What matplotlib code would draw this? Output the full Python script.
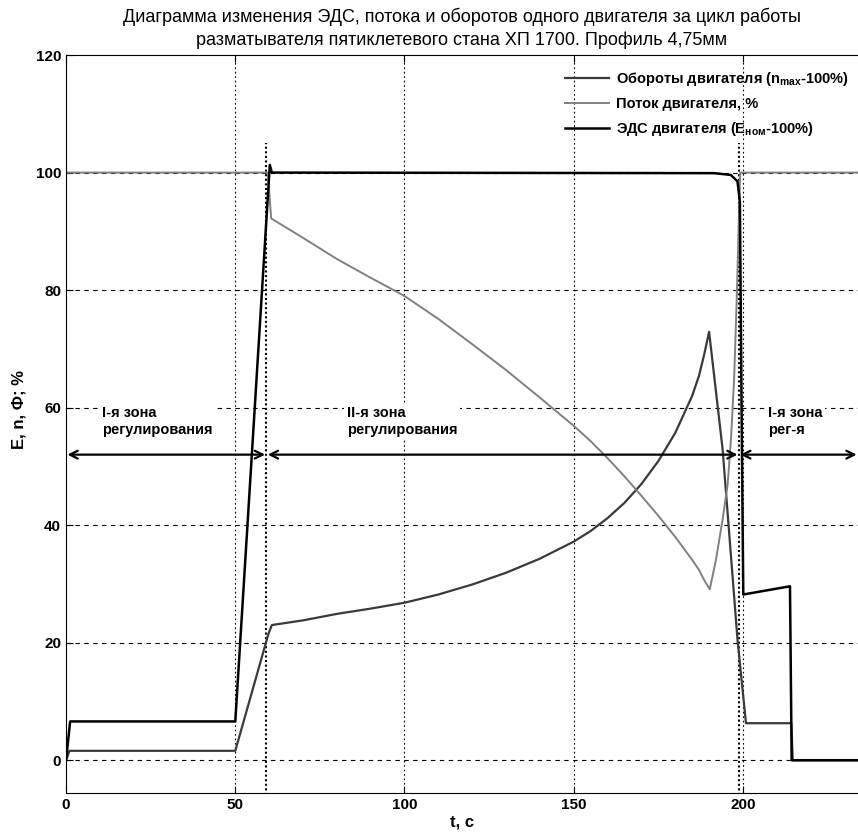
import matplotlib
matplotlib.use("Agg")
import matplotlib.pyplot as plt

plt.rcParams['font.family'] = ['Liberation Sans', 'DejaVu Sans']

# ЭДС двигателя
t_emf = [0, 1.2, 50, 60.2, 60.8, 191.5, 196.4, 198.4, 199.1, 199.6, 200.1, 213.9, 214.4, 234]
emf = [0, 6.6, 6.6, 101.3, 100, 99.9, 99.6, 98.5, 95, 60, 28.2, 29.6, 0, 0]

# Обороты двигателя
t_speed = [0, 1.0, 50, 59.8, 60.8, 70, 80, 90, 100, 110, 120, 130, 140, 150, 155, 160,
           165, 170, 175, 180, 185, 187, 188.5, 190.0, 194.0, 198.4, 200.9, 214.3, 214.7, 234]
speed = [0, 1.6, 1.6, 21.5, 23.0, 23.8, 24.9, 25.8, 26.8, 28.2, 29.9, 31.9, 34.3, 37.2, 39.0, 41.2,
         43.8, 47.0, 50.9, 55.7, 62.0, 65.4, 68.9, 72.9, 52.9, 20.5, 6.3, 6.3, 0, 0]

# Поток двигателя
t_flux = [0, 59.6, 60.6, 70, 80, 90, 100, 110, 120, 130, 140, 150, 155, 160, 165, 170, 175,
          180, 185, 187, 188.5, 190.2, 192, 194, 195.5, 196.5, 197.4, 198.2, 198.8, 199.2, 234]
flux = [100, 100, 92.2, 88.9, 85.3, 82.1, 79.0, 75.1, 70.8, 66.4, 61.7, 56.9, 54.3, 51.4, 48.3, 45.0, 41.6,
        38.0, 34.1, 32.4, 30.7, 29.1, 34, 41, 47, 55, 65, 79, 92, 100, 100]

zone_bounds = [0, 59.2, 198.8, 234]
zone_labels = ['I-я зона\nрегулирования', 'II-я зона\nрегулирования', 'I-я зона\nрег-я']
zone_text_x = [10.6, 83, 207.3]

fig = plt.figure(figsize=(8.58, 8.34), dpi=100)
ax = fig.add_axes([0.077, 0.049, 0.923, 0.885])

# сетка
for y in [0, 20, 40, 60, 80, 100]:
    ax.axhline(y, color='black', lw=0.8, ls=(0, (4, 4)), zorder=0.5)
for x in [50, 100, 150, 200]:
    ax.axvline(x, color='black', lw=0.8, ls=(0, (1.5, 2.5)), zorder=0.5)

ax.plot(t_speed, speed, color='#3a3a3a', lw=1.6, label=r'Обороты двигателя (n$_{\mathregular{max}}$-100%)')
ax.plot(t_flux, flux, color='#808080', lw=1.4, label='Поток двигателя, %')
ax.plot(t_emf, emf, color='black', lw=1.8, label=r'ЭДС двигателя (E$_{\mathregular{ном}}$-100%)')

# границы зон
for x in [59.2, 198.8]:
    ax.plot([x, x], [-6, 105], color='black', lw=1.5, ls=(0, (1, 1.2)), zorder=1)

for i in range(3):
    ax.annotate('', xy=(zone_bounds[i + 1] - 0.4, 52), xytext=(zone_bounds[i] + 0.4, 52),
                arrowprops=dict(arrowstyle='<->', lw=1.6, color='black',
                                mutation_scale=14, shrinkA=0, shrinkB=0))
    ax.text(zone_text_x[i], 57.7, zone_labels[i], fontsize=10.5, fontweight='bold',
            ha='left', va='center', linespacing=1.3,
            bbox=dict(facecolor='white', edgecolor='none', pad=2))

ax.set_xlim(0, 234)
ax.set_ylim(-5.6, 120)
ax.set_xticks([0, 50, 100, 150, 200])
ax.set_yticks([0, 20, 40, 60, 80, 100, 120])
ax.tick_params(direction='in', top=True, right=False, length=5, labelsize=11)
for lab in ax.get_xticklabels() + ax.get_yticklabels():
    lab.set_fontweight('bold')
ax.spines['right'].set_visible(False)

ax.set_xlabel('t, c', fontsize=12, fontweight='bold', labelpad=2)
ax.set_ylabel('E, n, Ф; %', fontsize=12, fontweight='bold')
ax.yaxis.set_label_coords(-0.05, 0.52)
ax.set_title('Диаграмма изменения ЭДС, потока и оборотов одного двигателя за цикл работы\n'
             'разматывателя пятиклетевого стана ХП 1700. Профиль 4,75мм',
             fontsize=13, pad=7, linespacing=1.45)

leg = ax.legend(loc='upper right', bbox_to_anchor=(1.005, 0.998), frameon=False, fontsize=10.5,
                handlelength=3.0, borderaxespad=0.5, labelspacing=0.62, handletextpad=0.5)
for txt in leg.get_texts():
    txt.set_fontweight('bold')

fig.savefig('out.png', dpi=100)
